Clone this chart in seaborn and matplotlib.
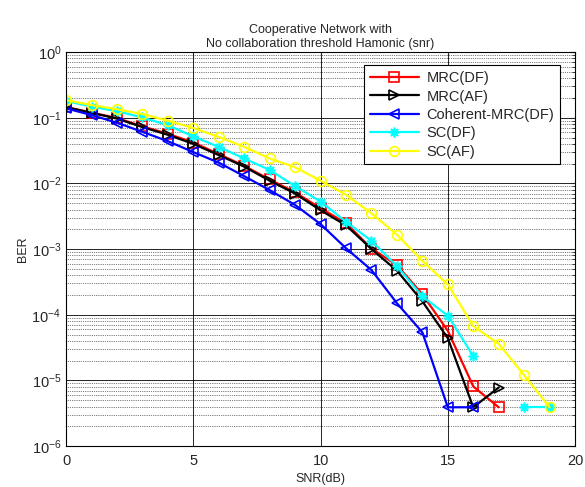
import matplotlib
matplotlib.use('Agg')
import matplotlib.pyplot as plt
import seaborn as sns
import numpy as np
import pandas as pd

# SNR axis and BER curves
snr = list(range(20))

mrc_df = [0.145, 0.12, 0.099, 0.074, 0.057, 0.042, 0.028, 0.0185, 0.0115, 0.0073,
          0.0042, 0.00248, 0.00102, 5.7e-4, 2.05e-4, 5.7e-5, 8.1e-6, 3.9e-6, np.nan, np.nan]
mrc_af = [0.145, 0.119, 0.097, 0.072, 0.055, 0.040, 0.027, 0.018, 0.011, 0.0070,
          0.0039, 0.0023, 0.00100, 4.7e-4, 1.6e-4, 4.4e-5, 3.9e-6, 7.8e-6, np.nan, np.nan]
coh_mrc_df = [0.139, 0.11, 0.084, 0.061, 0.044, 0.030, 0.0207, 0.0129, 0.0079, 0.0047,
              0.0024, 0.00103, 4.8e-4, 1.5e-4, 5.4e-5, 3.9e-6, 3.9e-6, np.nan, np.nan, np.nan]
sc_df = [0.18, 0.148, 0.126, 0.101, 0.077, 0.052, 0.036, 0.024, 0.016, 0.0091,
         0.0053, 0.0026, 0.00134, 5.5e-4, 1.9e-4, 9.7e-5, 2.35e-5, np.nan, 3.9e-6, 3.9e-6]
sc_af = [0.186, 0.156, 0.135, 0.114, 0.090, 0.070, 0.051, 0.036, 0.024, 0.0176,
         0.011, 0.0067, 0.0035, 0.00166, 6.6e-4, 2.9e-4, 6.7e-5, 3.6e-5, 1.2e-5, 3.9e-6]

labels = ['MRC(DF)', 'MRC(AF)', 'Coherent-MRC(DF)', 'SC(DF)', 'SC(AF)']
curves = [mrc_df, mrc_af, coh_mrc_df, sc_df, sc_af]
colors = ['red', 'black', 'blue', 'cyan', 'yellow']
markers = ['s', '>', '<', (8, 2, 0), 'o']

sns.set_style('white')
plt.rcParams['font.family'] = ['Liberation Sans', 'DejaVu Sans']

fig = plt.figure(figsize=(5.85, 4.87), dpi=100)
ax = fig.add_axes([0.113, 0.084, 0.870, 0.809])

for lab, ber, col, mk in zip(labels, curves, colors, markers):
    df = pd.DataFrame({'snr': snr, 'ber': ber})
    # split at missing values so the line shows a gap
    df['seg'] = df['ber'].isna().cumsum()
    df = df.dropna()
    first = True
    for _, part in df.groupby('seg'):
        sns.lineplot(data=part, x='snr', y='ber', ax=ax, color=col, marker=mk,
                     markersize=7, mfc='none', mec=col, mew=1.2, lw=1.6,
                     estimator=None, label=lab if first else None, legend=False)
        first = False

ax.set_yscale('log')
ax.set_xlim(0, 20)
ax.set_ylim(1e-6, 1)
ax.set_xticks([0, 5, 10, 15, 20])
ax.tick_params(direction='in', which='both', top=True, right=True, labelsize=10.5)
ax.tick_params(axis='x', pad=6)
ax.grid(True, which='major', color='k', ls='-', lw=0.6)
ax.yaxis.grid(True, which='minor', color='k', ls=':', lw=0.5)
for s in ax.spines.values():
    s.set_color('k')
    s.set_linewidth(0.8)

ax.set_title('Cooperative Network with\nNo collaboration threshold Hamonic (snr)', fontsize=9, pad=4)
ax.set_xlabel('SNR(dB)', fontsize=9, labelpad=3)
ax.set_ylabel('BER', fontsize=9, labelpad=2)

handles, labs = ax.get_legend_handles_labels()
leg = ax.legend(handles, labs, loc='upper right', bbox_to_anchor=(0.985, 0.985),
                fontsize=10.5, handlelength=3.4, borderpad=0.4, labelspacing=0.3,
                handletextpad=0.5, fancybox=False, framealpha=1, edgecolor='k')
leg.get_frame().set_linewidth(0.8)

fig.savefig('out.png', dpi=100)
